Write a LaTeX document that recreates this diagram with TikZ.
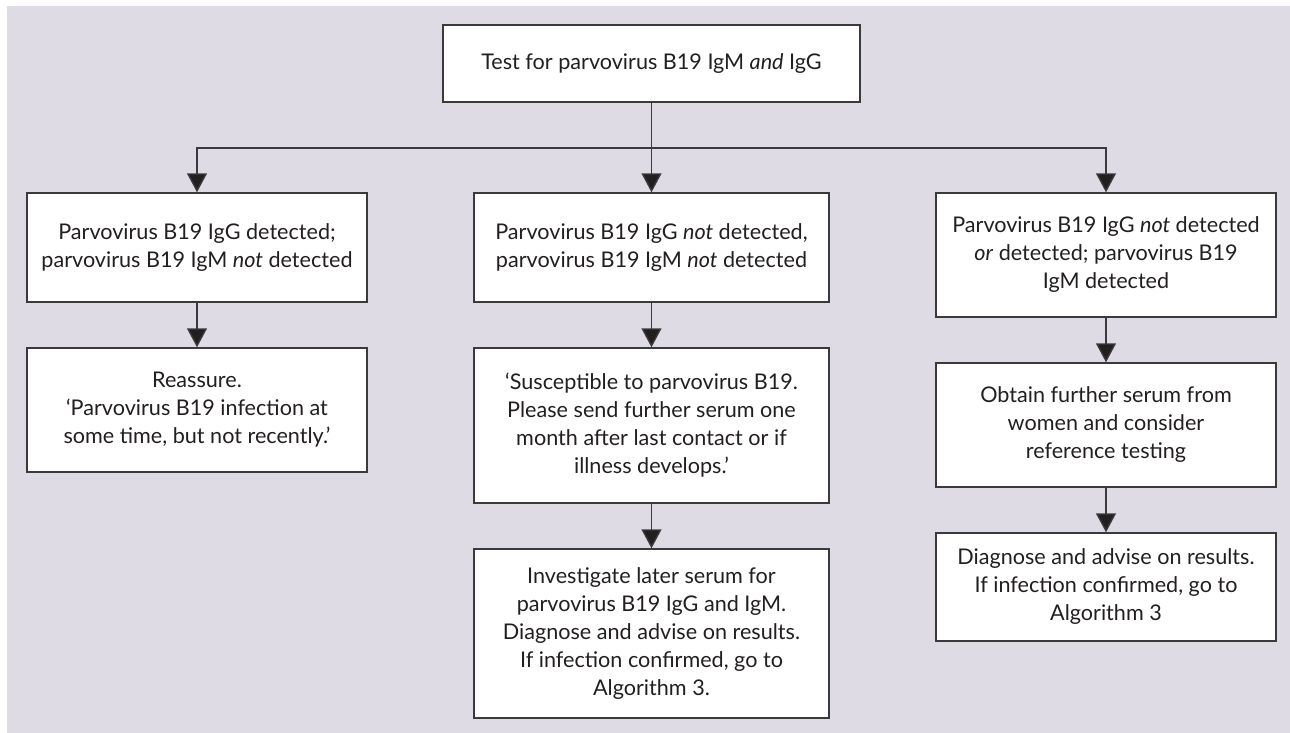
\documentclass[tikz,border=0pt]{standalone}
\usepackage{fontspec}
\setmainfont{Lato}
\usetikzlibrary{arrows.meta}
\definecolor{panel}{HTML}{DEDBE5}
\definecolor{ink}{HTML}{231F20}
\definecolor{rule}{HTML}{3A3A3C}
\begin{document}
\begin{tikzpicture}[x=1pt,y=-1pt,
  box/.style={draw=rule,line width=1.4pt,fill=white,align=center,text=ink,
    inner sep=0pt,font=\fontsize{21.6}{28}\selectfont},
  flow/.style={draw=rule,line width=1.4pt,
    -{Triangle[width=20pt,length=19pt,fill=ink]}}]
  % frame and panel
  \useasboundingbox (0,0) rectangle (1290,733);
  \fill[white] (0,0) rectangle (1290,733);
  \fill[panel] (7,6) rectangle (1290,733);

  % boxes
  \node[box,minimum width=417pt,minimum height=77pt] (top) at (651.5,63.5)
    {Test for parvovirus B19 IgM \textit{and} IgG};

  \node[box,minimum width=340pt,minimum height=109pt] (L1) at (197,247.5)
    {Parvovirus B19 IgG detected;\\parvovirus B19 IgM \textit{not} detected};
  \node[box,minimum width=340pt,minimum height=124pt] (L2) at (197,410)
    {Reassure.\\`Parvovirus B19 infection at\\some time, but not recently.'};

  \node[box,minimum width=355pt,minimum height=109pt] (M1) at (651.5,247.5)
    {Parvovirus B19 IgG \textit{not} detected,\\parvovirus B19 IgM \textit{not} detected};
  \node[box,minimum width=355pt,minimum height=155pt] (M2) at (651.5,425.5)
    {`Susceptible to parvovirus B19.\\Please send further serum one\\month after last contact or if\\illness develops.'};
  \node[box,minimum width=355pt,minimum height=169pt] (M3) at (651.5,633.5)
    {Investigate later serum for\\parvovirus B19 IgG and IgM.\\Diagnose and advise on results.\\If infection confirmed, go to\\Algorithm 3.};

  \node[box,minimum width=340pt,minimum height=124pt] (R1) at (1106,255)
    {Parvovirus B19 IgG \textit{not} detected\\\textit{or} detected; parvovirus B19\\IgM detected};
  \node[box,minimum width=340pt,minimum height=124pt] (R2) at (1106,425)
    {Obtain further serum from\\women and consider\\reference testing};
  \node[box,minimum width=340pt,minimum height=108pt] (R3) at (1106,587)
    {Diagnose and advise on results.\\If infection confirmed, go to\\Algorithm 3};

  % connectors
  \coordinate (bus) at (651.5,148);
  \draw[flow] (top.south) -- (M1.north);
  \draw[flow] (bus) -| (L1.north);
  \draw[flow] (bus) -| (R1.north);
  \draw[flow] (L1.south) -- (L2.north);
  \draw[flow] (M1.south) -- (M2.north);
  \draw[flow] (M2.south) -- (M3.north);
  \draw[flow] (R1.south) -- (R2.north);
  \draw[flow] (R2.south) -- (R3.north);
\end{tikzpicture}
\end{document}
